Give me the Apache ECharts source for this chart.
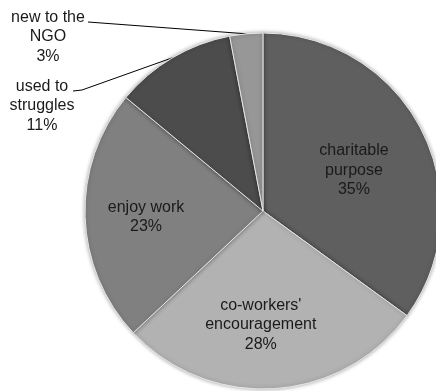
<!DOCTYPE html>
<html>
<head>
<meta charset="utf-8">
<script src="https://cdn.jsdelivr.net/npm/echarts@6/dist/echarts.min.js"></script>
<style>
  html, body { margin: 0; padding: 0; background: #fff; }
  #container { width: 436px; height: 391px; }
</style>
</head>
<body>
<div id="container"></div>
<script>
const categories = ['charitable\npurpose', "co-workers'\nencouragement", 'enjoy work', 'used to\nstruggles', 'new to the\nNGO']
const values = [35, 28, 23, 11, 3]
const colors = ['#5f5f5f', '#b2b2b2', '#808080', '#4c4c4c', '#979797']
const outsideIdx = [3, 4]

const myChart = echarts.init(document.getElementById('container'))

// tweak label spots so they sit like the original
const insideShift = { 0: [9, 1], 1: [-8, 22], 2: [-25, 3] }
const outsidePos = { 3: [42, 106], 4: [48, 37] }
// where the leader line meets the label text (first line, right side)
const lineEnds = { 3: [[82, 90], [73, 91]], 4: [[88, 22]] }

myChart.setOption({
  animation: false,
  series: [
    {
      type: 'pie',
      center: [263, 211],
      radius: 178,
      startAngle: 90,
      clockwise: true,
      itemStyle: {
        borderColor: '#e6e6e6',
        borderWidth: 1,
        shadowBlur: 4,
        shadowColor: 'rgba(0, 0, 0, 0.35)'
      },
      label: {
        position: 'inside',
        formatter: '{b}\n{c}%',
        fontFamily: 'Liberation Sans, Arial, sans-serif',
        fontSize: 16,
        lineHeight: 19.5,
        color: '#1a1a1a',
        align: 'center'
      },
      labelLine: { show: false },
      labelLayout: (params) => {
        const i = params.dataIndex
        if (outsidePos[i]) {
          const anchor = params.labelLinePoints ? params.labelLinePoints[0] : null
          const out = { x: outsidePos[i][0], y: outsidePos[i][1], align: 'center', verticalAlign: 'middle' }
          if (anchor) out.labelLinePoints = [anchor].concat(lineEnds[i])
          return out
        }
        return { dx: insideShift[i][0], dy: insideShift[i][1] }
      },
      data: categories.map((name, i) => {
        const item = { name, value: values[i], itemStyle: { color: colors[i] } }
        if (outsideIdx.includes(i)) {
          item.label = { position: 'outside' }
          item.labelLine = { show: true, length: 10, length2: 10, lineStyle: { color: '#000', width: 1 } }
        }
        return item
      })
    }
  ]
})
</script>
</body>
</html>
